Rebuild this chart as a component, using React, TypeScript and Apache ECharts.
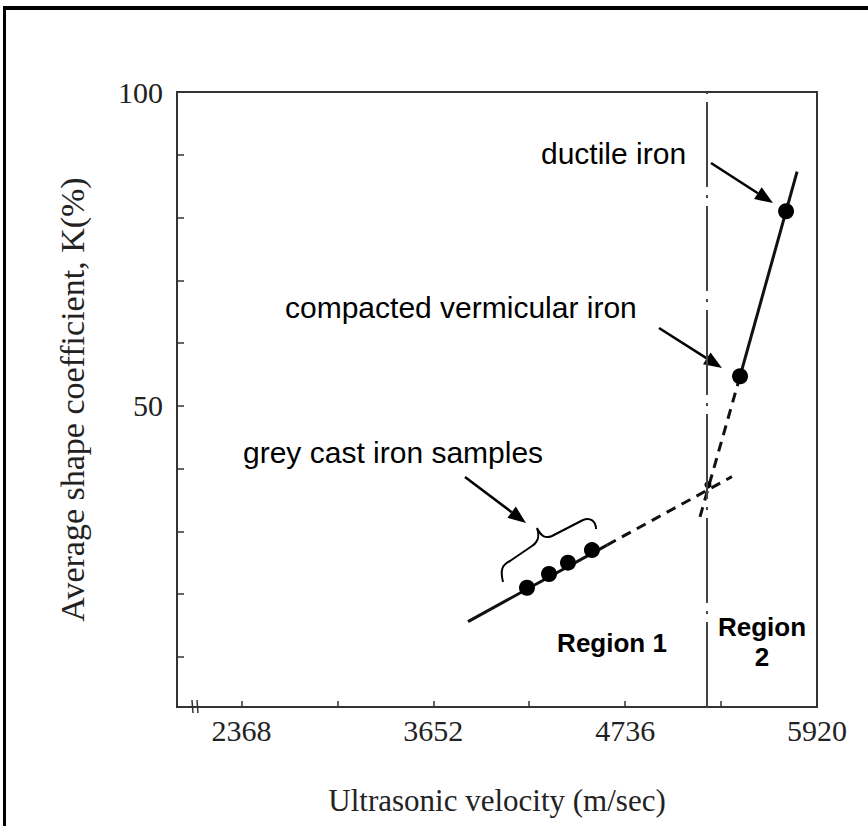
import React, { useEffect, useRef } from "react";
import * as echarts from "echarts";

// ---- data ----
const greyVelocity = [4130, 4266, 4383, 4531];
const greyK = [21.0, 23.2, 25.0, 27.0];
const cviPoint = [5445, 54.7];
const ductilePoint = [5729, 81.0];
const intersectionPoint = [5247, 37.4];

const region1Solid = [[3766, 15.6], [4624, 27.8]];
const region1Dashed = [[4624, 27.8], [5395, 38.7]];
const region2Dashed = [[5198, 32.3], [5445, 54.7]];
const region2Solid = [[5445, 54.7], [5797, 87.3]];
const regionBoundary = 5241;

const xLabelValues = [2368, 3552, 4736, 5920];
const xLabelTexts = ["2368", "3652", "4736", "5920"];
const xTickValues = [2368, 2960, 3552, 4144, 4736, 5328];
const yTickValues = [10, 20, 30, 40, 50, 60, 70, 80, 90];
const yLabelValues = [50, 100];

const SERIF = "'Liberation Serif', 'DejaVu Serif', serif";
const SANS = "'Liberation Sans', Arial, sans-serif";

function arrow(x1: number, y1: number, x2: number, y2: number) {
  const dx = x2 - x1, dy = y2 - y1;
  const len = Math.sqrt(dx * dx + dy * dy);
  const ux = dx / len, uy = dy / len;
  const hl = 18, hw = 7;
  const bx = x2 - ux * hl, by = y2 - uy * hl;
  const px = -uy * hw, py = ux * hw;
  return [
    { type: "line", shape: { x1, y1, x2: bx, y2: by }, style: { stroke: "#000", lineWidth: 2.5 } },
    { type: "polygon", shape: { points: [[x2, y2], [bx + px, by + py], [bx - px, by - py]] }, style: { fill: "#000" } },
  ];
}

const braceD =
  "M 503 582 C 500 570 502 565 510 561 L 532 546 C 538 542 540 537 537 528 C 541 536 545 539 552 536 L 583 520 C 590 517 596 521 596 529";

export default function App() {
  const ref = useRef<HTMLDivElement>(null);
  useEffect(() => {
    document.body.style.margin = "0";
    try {
      echarts.graphic.registerShape("brace", echarts.graphic.extendPath(braceD, {}));
    } catch (e) {}
    const chart = echarts.init(ref.current!, null, { renderer: "svg" });
    const lineBase = { type: "line", symbol: "none", silent: true, z: 3 };
    chart.setOption({
      animation: false,
      backgroundColor: "#fff",
      grid: {
        left: 177, right: 51, top: 92, bottom: 119,
        show: true, borderColor: "#333", borderWidth: 2,
        outerBoundsMode: "none",
      },
      xAxis: {
        type: "value", min: 1970, max: 5920,
        axisLine: { show: true, lineStyle: { color: "#333", width: 2 } },
        axisTick: { show: true, inside: true, length: 6, customValues: xTickValues, lineStyle: { color: "#333", width: 1.5 } },
        axisLabel: {
          customValues: xLabelValues, showMaxLabel: true, showMinLabel: true,
          formatter: (v: number) => { const i = xLabelValues.indexOf(v); return i >= 0 ? xLabelTexts[i] : ""; },
          fontSize: 30, fontFamily: SERIF, color: "#222", margin: 8,
        },
        splitLine: { show: false },
        name: "Ultrasonic velocity (m/sec)", nameLocation: "middle", nameGap: 78,
        nameTextStyle: { fontSize: 31, fontFamily: SERIF, color: "#222" },
      },
      yAxis: {
        type: "value", min: 2, max: 100,
        axisLine: { show: true, lineStyle: { color: "#333", width: 2 } },
        axisTick: { show: true, inside: true, length: 7, customValues: yTickValues, lineStyle: { color: "#333", width: 1.5 } },
        axisLabel: { customValues: yLabelValues, fontSize: 30, fontFamily: SERIF, color: "#222", margin: 14 },
        splitLine: { show: false },
        name: "Average shape coefficient, K(%)", nameLocation: "middle", nameGap: 88,
        nameTextStyle: { fontSize: 34, fontFamily: SERIF, color: "#222" },
      },
      series: [
        { ...lineBase, data: region1Solid, lineStyle: { color: "#111", width: 3 } },
        { ...lineBase, data: region1Dashed, lineStyle: { color: "#111", width: 3, type: [10, 7] } },
        { ...lineBase, data: region2Dashed, lineStyle: { color: "#111", width: 3, type: [10, 7] } },
        {
          ...lineBase, data: region2Solid, lineStyle: { color: "#111", width: 3 },
          markLine: {
            silent: true, symbol: "none", label: { show: false },
            lineStyle: { color: "#444", width: 2, type: [85, 8, 3, 8] },
            data: [{ xAxis: regionBoundary }],
          },
        },
        {
          type: "scatter", symbolSize: 16, itemStyle: { color: "#000", opacity: 1 }, z: 4,
          data: [...greyVelocity.map((v, i) => [v, greyK[i]]), cviPoint, ductilePoint],
        },
        { type: "scatter", symbolSize: 7, itemStyle: { color: "#000", opacity: 1 }, z: 4, data: [intersectionPoint] },
      ],
      graphic: [
        { type: "rect", shape: { x: 3, y: 6, width: 865, height: 4 }, style: { fill: "#000" } },
        { type: "rect", shape: { x: 3, y: 6, width: 3, height: 820 }, style: { fill: "#000" } },
        { type: "line", shape: { x1: 192, y1: 700, x2: 193, y2: 713 }, style: { stroke: "#333", lineWidth: 1.5 } },
        { type: "line", shape: { x1: 197, y1: 700, x2: 198, y2: 713 }, style: { stroke: "#333", lineWidth: 1.5 } },
        { type: "text", x: 541, y: 153, style: { text: "ductile iron", fontSize: 30, fontFamily: SANS, fill: "#000", textVerticalAlign: "middle" } },
        { type: "text", x: 285, y: 307, style: { text: "compacted vermicular iron", fontSize: 30, fontFamily: SANS, fill: "#000", textVerticalAlign: "middle" } },
        { type: "text", x: 243, y: 452, style: { text: "grey cast iron samples", fontSize: 30, fontFamily: SANS, fill: "#000", textVerticalAlign: "middle" } },
        { type: "text", x: 612, y: 643, style: { text: "Region 1", fontSize: 26, fontWeight: "bold", fontFamily: SANS, fill: "#000", textAlign: "center", textVerticalAlign: "middle" } },
        { type: "text", x: 762, y: 627, style: { text: "Region", fontSize: 26, fontWeight: "bold", fontFamily: SANS, fill: "#000", textAlign: "center", textVerticalAlign: "middle" } },
        { type: "text", x: 762, y: 657, style: { text: "2", fontSize: 26, fontWeight: "bold", fontFamily: SANS, fill: "#000", textAlign: "center", textVerticalAlign: "middle" } },
        ...arrow(711, 163, 773, 203),
        ...arrow(659, 328, 722, 368),
        ...arrow(465, 477, 526, 523),
        { type: "brace", x: 0, y: 0, style: { stroke: "#000", lineWidth: 2, fill: null } },
      ],
    });
    return () => chart.dispose();
  }, []);
  return <div ref={ref} style={{ width: 868, height: 826 }} />;
}
